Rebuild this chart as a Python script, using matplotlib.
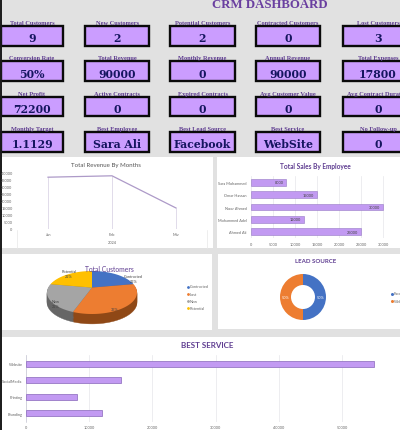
import matplotlib
matplotlib.use("Agg")
import matplotlib.pyplot as plt
import numpy as np
from matplotlib.patches import Rectangle

W, H = 400, 431

plt.rcParams["font.family"] = ["Lato", "DejaVu Sans"]

# KPI cards, row by row
kpi_labels = [
    ["Total Customers", "New Customers", "Potential Customers", "Contracted Customers", "Lost Customers"],
    ["Conversion Rate", "Total Revenue", "Monthly Revenue", "Annual Revenue", "Total Expenses"],
    ["Net Profit", "Active Contracts", "Expired Contracts", "Avg Customer Value", "Avg Contract Duration"],
    ["Monthly Target", "Best Employee", "Best Lead Source", "Best Service", "No Follow-up"],
]
kpi_values = [
    ["9", "2", "2", "0", "3"],
    ["50%", "90000", "0", "90000", "17800"],
    ["72200", "0", "0", "0", "0"],
    ["1.1129", "Sara Ali", "Facebook", "WebSite", "0"],
]

months = ["Jan", "Feb", "Mar"]
month_revenue = [37000, 38000, 15000]
revenue_ticks = [0, 5000, 10000, 15000, 20000, 25000, 30000, 35000, 40000]

employees = ["Ahmed Ali", "Mohammed Adel", "Noor Ahmed", "Omar Hassan", "Sara Mohammed"]
employee_sales = [25000, 12000, 30000, 15000, 8000]
employee_ticks = [0, 5000, 10000, 15000, 20000, 25000, 30000, 35000]

customer_types = ["Contracted", "Lost", "New", "Potential"]
customer_counts = [2, 3, 2, 2]
customer_pct = ["22%", "33%", "22%", "22%"]

lead_sources = ["Facebook", "Website"]
lead_counts = [50, 50]

services = ["Branding", "Printing", "SocialMedia", "Website"]
service_sales = [12000, 8000, 15000, 55000]
service_ticks = [0, 10000, 20000, 30000, 40000, 50000]

PURPLE_TEXT = "#5f3d91"
BAR_FILL = "#c29af2"
BAR_EDGE = "#9678c4"
GREY_TEXT = "#666666"
GRID = "#e6e6ea"
TICK_SIZE = 2.8
PIE_COLORS = ["#4472c4", "#ed7d31", "#a5a5a5", "#ffc000"]
PIE_SIDES = ["#2f5597", "#8f4816", "#666666", "#b38600"]
PIE_TILT = 0.23  # how far the apex sits above the middle of the tilted pie

fig = plt.figure(figsize=(W / 100, H / 100), dpi=100, facecolor="#e1e1e1")


def axes_px(x0, y0, x1, y1, **kw):
    # axes from pixel box, y measured from the top
    return fig.add_axes([x0 / W, 1 - y1 / H, (x1 - x0) / W, (y1 - y0) / H], **kw)


def text_px(x, y, s, **kw):
    # figure level text so it sits above every axes
    kw.setdefault("ha", "center")
    kw.setdefault("va", "center")
    fig.text(x / W, 1 - y / H, s, **kw)


def tilted_slices(values, tilt):
    # slice outlines, clockwise from 12 o'clock, seen in perspective
    edges = np.cumsum([0] + list(values)) / sum(values) * 2 * np.pi
    outlines = []
    for start, end in zip(edges[:-1], edges[1:]):
        theta = np.linspace(start, end, 60)
        u = np.r_[0, np.sin(theta)]
        v = np.r_[0, np.cos(theta)]
        scale = 1 + tilt * v
        outlines.append((u * np.sqrt(1 - tilt ** 2) / scale, (v + tilt) / scale))
    return outlines


bg = axes_px(0, 0, W, H)
bg.set_xlim(0, W)
bg.set_ylim(H, 0)
bg.axis("off")

bg.plot([0.8, 0.8], [0, H], color="#1a1a1a", lw=1.4)
bg.text(270, 5, "CRM DASHBOARD", family="Liberation Serif", fontsize=9.2,
        color="#6a3fa0", ha="center", va="center", fontweight="bold")

# cards
card_x = [(1, 63), (85, 149), (170, 235), (256, 320), (343, 413)]
card_y = [(27, 47), (62, 82), (98, 117), (133, 153)]
for r, (y0, y1) in enumerate(card_y):
    for c, (x0, x1) in enumerate(card_x):
        bg.add_patch(Rectangle((x0, y0), x1 - x0, y1 - y0, facecolor="#cb9dff",
                               edgecolor="#0a0a0a", lw=1.7))
        bg.text((x0 + x1) / 2, y0 - 3.3, kpi_labels[r][c], family="Liberation Serif",
                fontsize=4.6, fontweight="bold", color=PURPLE_TEXT, ha="center",
                va="center", clip_on=True)
        bg.text((x0 + x1) / 2, y0 + 12, kpi_values[r][c], family="DejaVu Serif",
                fontsize=7.8, fontweight="bold", color="#15155f", ha="center",
                va="center", clip_on=True)

# chart panels
for x0, y0, x1, y1 in [(2, 158, 213, 249), (217, 158, 400, 249), (2, 255, 212, 331),
                       (218, 255, 400, 330), (2, 338, 400, 431)]:
    bg.add_patch(Rectangle((x0, y0), x1 - x0, y1 - y0, facecolor="white", edgecolor="none"))

# revenue line
ax = axes_px(16, 174, 208, 230)
ax.plot(months, month_revenue, color="#ad9ac8", lw=0.9, zorder=3)
ax.vlines(months, 0, month_revenue, color="#dcd6e6", lw=0.6)
ax.set_xlim(-0.5, 2.5)
ax.set_ylim(0, 40000)
ax.set_yticks(revenue_ticks)
ax.tick_params(length=0, labelsize=TICK_SIZE, labelcolor=GREY_TEXT, pad=2.5)
ax.patch.set_alpha(0)
for s in ax.spines.values():
    s.set_visible(False)
text_px(106, 165, "Total Revenue By Months", fontsize=4.4, color="#555555")
text_px(112, 243.5, "2024", fontsize=TICK_SIZE, color=GREY_TEXT)
bg.plot([17, 17], [231, 249], color="#e8e8e8", lw=0.5)
bg.plot([207, 207], [231, 249], color="#e8e8e8", lw=0.5)

# employee bars
ax = axes_px(251, 177, 405, 239)
ax.barh(employees, employee_sales, height=0.55, color=BAR_FILL, edgecolor=BAR_EDGE, lw=0.4, zorder=3)
for i, v in enumerate(employee_sales):
    ax.text(v - 600, i, str(v), fontsize=TICK_SIZE, color="#444444", ha="right", va="center", zorder=4)
ax.set_xlim(0, 35000)
ax.set_xticks(employee_ticks)
ax.grid(axis="x", color=GRID, lw=0.5, zorder=0)
ax.tick_params(length=0, labelsize=TICK_SIZE, labelcolor=GREY_TEXT, pad=3)
ax.patch.set_alpha(0)
for s in ax.spines.values():
    s.set_visible(False)
text_px(315, 167, "Total Sales By Employee", fontsize=4.7, fontweight="bold", color=PURPLE_TEXT)

# 3d looking pie: dark layers stacked under the top face
ax = axes_px(92 - 50, 293.5 - 25, 92 + 50, 293.5 + 25 + 12)
depth_steps = [0.46, 0.4, 0.34, 0.28, 0.22, 0.16, 0.1, 0.05]
slices = tilted_slices(customer_counts, PIE_TILT)
for d in depth_steps:
    for (px, py), color in zip(slices, PIE_SIDES):
        ax.fill(px, py - d, color=color, lw=0.3)
for (px, py), color in zip(slices, PIE_COLORS):
    ax.fill(px, py, color=color, lw=0)
ax.set_xlim(-50 / 45, 50 / 45)
ax.set_ylim(-37 / 21.5, 25 / 21.5)
ax.axis("off")
text_px(109, 270, "Total Customers", fontsize=4.9, color=PURPLE_TEXT)
text_px(124, 277, customer_types[0], fontsize=TICK_SIZE, color="#444444", ha="left")
text_px(134, 282, customer_pct[0], fontsize=TICK_SIZE, color="#444444")
text_px(115, 310, customer_pct[1], fontsize=TICK_SIZE, color="#444444")
text_px(56, 302, customer_types[2], fontsize=TICK_SIZE, color="#444444")
text_px(56, 307, customer_pct[2], fontsize=TICK_SIZE, color="#444444")
text_px(69, 272, customer_types[3], fontsize=TICK_SIZE, color="#444444")
text_px(69, 277, customer_pct[3], fontsize=TICK_SIZE, color="#444444")
for i, name in enumerate(customer_types):
    y = 287.5 + i * 7.3
    bg.scatter([188], [y], s=1.0, color=PIE_COLORS[i], zorder=5)
    bg.text(189.5, y, name, fontsize=TICK_SIZE, color=GREY_TEXT, ha="left", va="center")

# donut
ax = axes_px(303 - 26, 298 - 26, 303 + 26, 298 + 26)
ax.pie(lead_counts, colors=["#4472c4", "#ed7d31"], startangle=90, counterclock=False,
       radius=23 / 26, wedgeprops={"width": 11 / 26})
ax.set_xlim(-1, 1)
ax.set_ylim(-1, 1)
text_px(321, 298, "50%", fontsize=TICK_SIZE, color="white")
text_px(285.5, 298, "50%", fontsize=TICK_SIZE, color="white")
text_px(316, 262, "LEAD SOURCE", fontsize=4.4, fontweight="bold", color=PURPLE_TEXT)
for i, name in enumerate(lead_sources):
    y = 294.5 + i * 7.3
    bg.scatter([391.5], [y], s=1.4, color=["#4472c4", "#ed7d31"][i], zorder=5)
    bg.text(393.5, y, name, fontsize=TICK_SIZE, color=GREY_TEXT, ha="left", va="center", clip_on=True)

# best service bars
ax = axes_px(26, 356, 390, 423)
ax.barh(services, service_sales, height=0.36, color=BAR_FILL, edgecolor=BAR_EDGE, lw=0.6, zorder=3)
ax.set_xlim(0, 364 / 63.2 * 10000)
ax.set_ylim(-0.55, 3.55)
ax.set_xticks(service_ticks)
ax.grid(axis="x", color=GRID, lw=0.5, zorder=0)
ax.tick_params(length=0, labelsize=TICK_SIZE, labelcolor=GREY_TEXT, pad=2.5)
ax.patch.set_alpha(0)
for s in ax.spines.values():
    s.set_visible(False)
ax.spines["left"].set_visible(True)
ax.spines["left"].set_color("#c9c9d6")
ax.spines["left"].set_linewidth(0.5)
text_px(207, 346, "BEST SERVICE", fontsize=5.8, fontweight="bold", color=PURPLE_TEXT)

fig.savefig("out.png", dpi=100)
